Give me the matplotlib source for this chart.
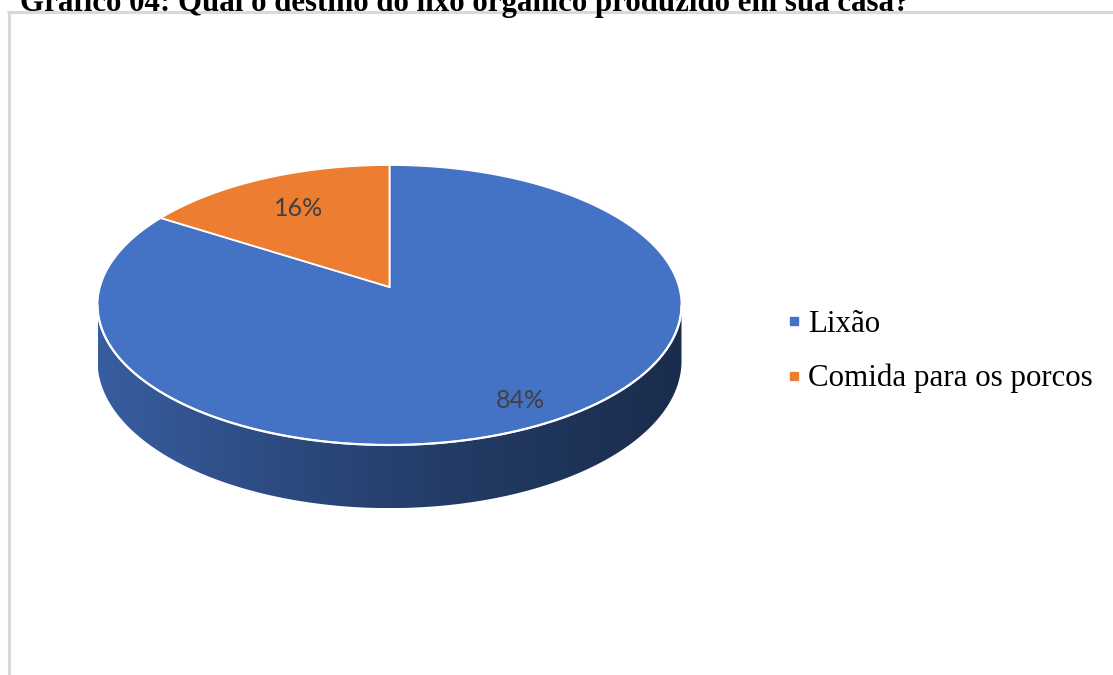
import numpy as np
import matplotlib
matplotlib.use("Agg")
import matplotlib.pyplot as plt
from matplotlib.patches import Polygon
from matplotlib.lines import Line2D
from matplotlib.colors import to_rgb

# dados do gráfico
categorias = ["Lixão", "Comida para os porcos"]
valores = [84, 16]
cores = ["#4472C4", "#ED7D31"]
titulo = "Gráfico 04: Qual o destino do lixo orgânico produzido em sua casa?"

# geometria da pizza 3D (em pixels da figura)
CX, CY = 389.5, 305      # centro da elipse do topo
RY = 140                 # meio eixo vertical
E = 18                   # deslocamento do centro da pizza pela perspectiva
C = E / RY
RX = 292 * np.sqrt(1 - C ** 2)
H = 55                   # espessura
LABEL_R = [0.85, 0.7]


def projeta(ang, r=1.0, desce=0.0):
    u = r * np.cos(ang)
    v = r * np.sin(ang)
    w = 1 + C * v
    x = CX + RX * u / w
    y = CY - (RY * v + E) / w + desce / w
    return x, y


fig = plt.figure(figsize=(11.13, 6.75), dpi=100)
ax = fig.add_axes([0, 0, 1, 1])

# angulos das fatias, começando no topo e girando no sentido horário
total = float(sum(valores))
fracs = np.array(valores) / total
inicio = 90 - 360 * np.concatenate([[0], np.cumsum(fracs)[:-1]])
fim = inicio - 360 * fracs

# lateral (só a parte da frente aparece)
alfa = np.degrees(np.arcsin(C))
frente = np.linspace(180 + alfa, 360 - alfa, 600)


def fatia_de(a):
    for i in range(len(valores)):
        if (a - fim[i]) % 360 < (inicio[i] - fim[i]):
            return i
    return 0


idx = np.array([fatia_de(a) for a in frente])
cortes = np.where(np.diff(idx) != 0)[0] + 1
for trecho in np.split(np.arange(len(frente)), cortes):
    if len(trecho) < 2:
        continue
    i = idx[trecho[0]]
    ang = np.radians(frente[trecho])
    xt, yt = projeta(ang)
    xb, yb = projeta(ang, desce=H)
    pts = np.column_stack([np.concatenate([xt, xb[::-1]]), np.concatenate([yt, yb[::-1]])])
    lado = Polygon(pts, closed=True, facecolor="none", edgecolor="none")
    ax.add_patch(lado)
    # degradê horizontal escurecendo para a direita
    x0, x1 = pts[:, 0].min(), pts[:, 0].max()
    y0, y1 = pts[:, 1].min(), pts[:, 1].max()
    t = np.linspace(0, 1, 300)
    fator = np.interp(t, [0, 0.3, 0.6, 1], [0.82, 0.66, 0.52, 0.39])
    base = np.array(to_rgb(cores[i]))
    grad = (fator[:, None] * base[None, :])[None, :, :]
    im = ax.imshow(grad, extent=(x0, x1, y1, y0), aspect="auto", interpolation="bilinear", zorder=1)
    im.set_clip_path(lado)

# topo
for i in range(len(valores)):
    ang = np.radians(np.linspace(inicio[i], fim[i], 300))
    xa, ya = projeta(ang)
    xc, yc = projeta(0.0, r=0.0)
    pts = np.column_stack([np.concatenate([[xc], xa]), np.concatenate([[yc], ya])])
    ax.add_patch(Polygon(pts, closed=True, facecolor=cores[i], edgecolor="white",
                         linewidth=1.3, joinstyle="miter", zorder=2))

# borda branca entre topo e lateral
xf, yf = projeta(np.radians(frente))
ax.plot(xf, yf, color="white", lw=1.6, zorder=3, solid_capstyle="butt")

# rótulos de porcentagem
for i in range(len(valores)):
    meio = np.radians((inicio[i] + fim[i]) / 2)
    lx, ly = projeta(meio, r=LABEL_R[i])
    ax.text(lx, ly, "{:.0f}%".format(fracs[i] * 100), ha="center", va="center",
            fontsize=18, color="#404040", family="Lato", zorder=4)

# título (cortado no topo) e moldura cinza
ax.text(20, 11, titulo, ha="left", va="baseline", fontsize=22.2, fontweight="bold",
        family="Liberation Serif", color="black")
ax.plot([8.5, 8.5], [675, 12], color="#D9D9D9", lw=2.2, solid_capstyle="butt")
ax.plot([7.4, 1113], [12, 12], color="#D9D9D9", lw=2.2, solid_capstyle="butt")

ax.set_xlim(0, 1113)
ax.set_ylim(675, 0)
ax.axis("off")

handles = [Line2D([], [], marker="s", linestyle="none", markersize=5.8,
                  markerfacecolor=c, markeredgecolor=c) for c in cores]
fig.legend(handles, categorias, loc="center left", bbox_to_anchor=(760 / 1113, 1 - 351.5 / 675),
           frameon=False, prop={"family": "Liberation Serif", "size": 22.3},
           handlelength=0.4, handletextpad=0.25, labelspacing=0.82)

fig.savefig("out.png", dpi=100)
